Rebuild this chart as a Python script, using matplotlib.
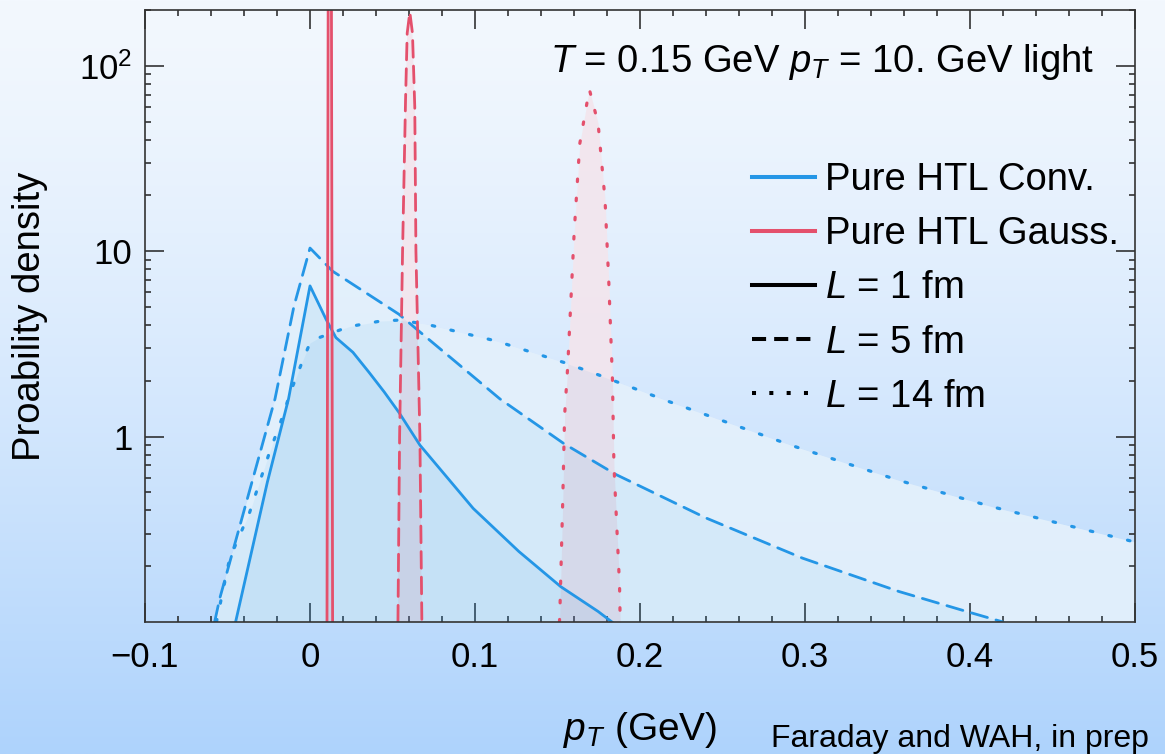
import numpy as np
import matplotlib
matplotlib.use('Agg')
import matplotlib.pyplot as plt
from matplotlib.lines import Line2D
from matplotlib.ticker import FixedLocator, FixedFormatter, LogLocator, MultipleLocator, NullFormatter

plt.rcParams['font.family'] = ['Liberation Sans', 'DejaVu Sans']
plt.rcParams['mathtext.fontset'] = 'custom'
plt.rcParams['mathtext.rm'] = 'Liberation Sans'
plt.rcParams['mathtext.it'] = 'Liberation Sans:italic'

# ---- data ----
# blue: pure HTL convolution
conv_x_1fm = [-0.0451, -0.0258, -0.013, 0.0, 0.0097, 0.0157, 0.026, 0.0358, 0.045, 0.0539,
              0.0666, 0.0989, 0.1266, 0.152, 0.1746, 0.183]
conv_y_1fm = [0.1, 0.57, 1.6, 6.5, 4.3, 3.42, 2.85, 2.22, 1.74, 1.35,
              0.9, 0.41, 0.24, 0.155, 0.114, 0.1]

conv_x_5fm = [-0.0578, -0.0547, -0.0212, -0.0097, 0.0, 0.0137, 0.0539, 0.0666, 0.115,
              0.154, 0.1855, 0.24, 0.2985, 0.357, 0.3964, 0.42]
conv_y_5fm = [0.1, 0.134, 1.6, 5.06, 10.4, 7.8, 4.57, 3.67, 1.6,
              0.915, 0.624, 0.364, 0.221, 0.146, 0.115, 0.1]

conv_x_14fm = [-0.0567, -0.0487, -0.0366, -0.0246, -0.0175, -0.0115, -0.0045, 0.0, 0.0056,
               0.0237, 0.0428, 0.0539, 0.071, 0.1127, 0.154, 0.175, 0.218, 0.292, 0.357,
               0.414, 0.5]
conv_y_14fm = [0.1, 0.22, 0.39, 0.82, 1.22, 1.77, 2.56, 3.2, 3.42,
               3.92, 4.2, 4.25, 4.03, 3.28, 2.51, 2.15, 1.54, 0.895, 0.58,
               0.417, 0.27]

# red: pure HTL gaussian
gauss_x_1fm = [0.0103, 0.0110, 0.0120, 0.0130, 0.0137]
gauss_y_1fm = [0.1, 200, 800, 200, 0.1]

gauss_x_5fm = [0.0533, 0.0543, 0.0561, 0.0579, 0.0589, 0.0605, 0.0621, 0.0635, 0.0642, 0.0666, 0.0678]
gauss_y_5fm = [0.1, 1.0, 10, 65, 150, 195, 150, 60, 10, 1.0, 0.1]

gauss_x_14fm = [0.1512, 0.1515, 0.1532, 0.1543, 0.1562, 0.1601, 0.1635, 0.1693, 0.1746,
                0.1788, 0.1811, 0.1833, 0.1842, 0.1876, 0.188]
gauss_y_14fm = [0.1, 0.119, 0.46, 1.3, 2.4, 12.6, 38, 74.7, 49,
                19, 6.8, 2.04, 0.70, 0.158, 0.1]

blue = '#2496e6'
red = '#e4506c'
fill_base = '#f5f9fe'

W, H = 1165, 754
fig = plt.figure(figsize=(W / 100, H / 100), dpi=100)

# background gradient
bg = fig.add_axes([0, 0, 1, 1], zorder=-10)
top_c = np.array([243, 248, 254]) / 255
bot_c = np.array([174, 211, 252]) / 255
t = np.linspace(0, 1, 256)[:, None] ** 1.3
grad = top_c[None, :] * (1 - t) + bot_c[None, :] * t
bg.imshow(grad[:, None, :].repeat(2, axis=1), aspect='auto', extent=[0, 1, 0, 1])
bg.axis('off')

ax = fig.add_axes([145 / W, 1 - 622 / H, 990 / W, 612 / H])
ax.patch.set_alpha(0)

dash5 = (0, (6, 3.2))
dot14 = (0, (0.8, 5.2))

series = [
    (conv_x_1fm, conv_y_1fm, blue, '-', 0.09),
    (conv_x_5fm, conv_y_5fm, blue, dash5, 0.08),
    (conv_x_14fm, conv_y_14fm, blue, dot14, 0.075),
    (gauss_x_1fm, gauss_y_1fm, red, '-', 0.1),
    (gauss_x_5fm, gauss_y_5fm, red, dash5, 0.1),
    (gauss_x_14fm, gauss_y_14fm, red, dot14, 0.1),
]
# pale base under every curve, then tinted fills on top
for xs, ys, c, ls, a in series:
    ax.fill_between(xs, ys, 0.01, color=fill_base, alpha=0.92, lw=0, zorder=1)
for xs, ys, c, ls, a in series:
    ax.fill_between(xs, ys, 0.01, color=c, alpha=a, lw=0, zorder=2)
for xs, ys, c, ls, a in series:
    lw = 2.3 if ls is dot14 else 2.0
    ax.plot(xs, ys, color=c, lw=lw, linestyle=ls, dash_capstyle='round', zorder=3)

ax.set_yscale('log')
ax.set_xlim(-0.1, 0.5)
ax.set_ylim(0.1, 200)

ax.yaxis.set_major_locator(FixedLocator([1, 10, 100]))
ax.yaxis.set_major_formatter(FixedFormatter(['1', '10', '$10^2$']))
ax.yaxis.set_minor_locator(LogLocator(base=10, subs=np.arange(2, 10)))
ax.yaxis.set_minor_formatter(NullFormatter())
ax.set_xticks([-0.1, 0, 0.1, 0.2, 0.3, 0.4, 0.5])
ax.set_xticklabels(['\u22120.1', '0', '0.1', '0.2', '0.3', '0.4', '0.5'])
ax.xaxis.set_minor_locator(MultipleLocator(0.02))

ax.tick_params(which='both', direction='in', top=True, right=True, colors='#222222',
               width=1.1, labelsize=25, labelcolor='black')
ax.tick_params(which='major', length=13.5)
ax.tick_params(which='minor', length=4.5)
ax.tick_params(axis='x', which='major', pad=14)
ax.tick_params(axis='y', which='major', pad=9)
for s in ax.spines.values():
    s.set_color('#333333')
    s.set_linewidth(1.2)
    s.set_zorder(4)

ax.text(-0.116, 0.5, 'Proability density', transform=ax.transAxes, rotation=90,
        ha='center', va='center', fontsize=27.5)
ax.text(0.5, (622 - 730) / 612, '$p_T$ (GeV)', transform=ax.transAxes,
        ha='center', va='center', fontsize=28)
fig.text(771 / W, 1 - 747 / H, 'Faraday and WAH, in prep', ha='left', va='baseline', fontsize=23)
ax.text((1094 - 145) / 990, (622 - 72) / 612, '$T$ = 0.15 GeV $p_T$ = 10. GeV light',
        transform=ax.transAxes, ha='right', va='baseline', fontsize=27.5)

handles = [
    Line2D([], [], color=blue, lw=2.9),
    Line2D([], [], color=red, lw=2.9),
    Line2D([], [], color='black', lw=2.9),
    Line2D([], [], color='black', lw=2.9, linestyle=(0, (3.5, 2))),
    Line2D([], [], color='black', lw=2.9, linestyle=(0, (1, 3.3))),
]
labels = ['Pure HTL Conv.', 'Pure HTL Gauss.', '$L$ = 1 fm', '$L$ = 5 fm', '$L$ = 14 fm']
ax.legend(handles, labels, loc='upper left', bbox_to_anchor=(752 / W, 1 - 162 / H),
          bbox_transform=fig.transFigure, frameon=False, fontsize=27.5, borderpad=0,
          borderaxespad=0, handlelength=1.65, handletextpad=0.26, labelspacing=0.476)

fig.savefig('out.png', dpi=100)
